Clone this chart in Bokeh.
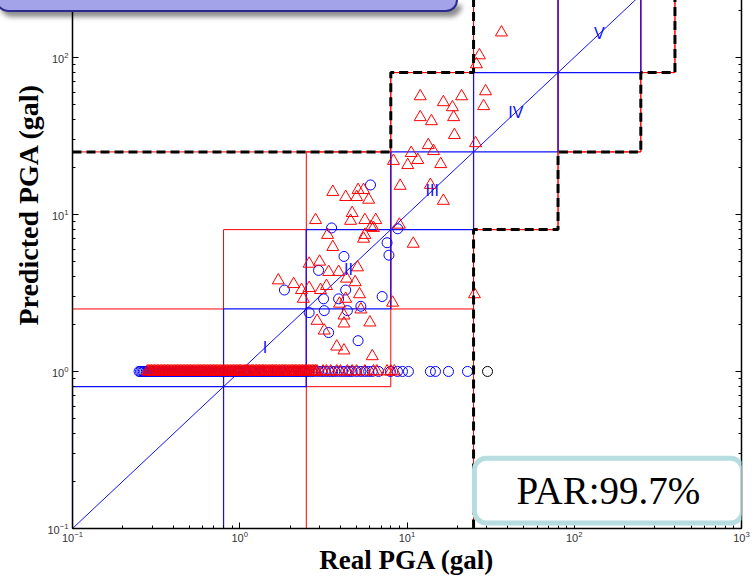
import math
from bokeh.plotting import figure
from bokeh.layouts import column
from bokeh.models import (LogAxis, FixedTicker, Label, BoxAnnotation,
                          CustomJSTickFormatter, Range1d, Title, Div)
from bokeh.core.properties import value
from bokeh.embed import file_html
from bokeh.resources import INLINE

# ---------------- data ----------------
# intensity class boundaries (gal)
class_lo = [0.1, 0.8, 2.5, 8, 25, 80]
class_hi = [0.8, 2.5, 8, 25, 80, 250]
class_names = ["I", "II", "III", "IV", "V"]

# +-1 class tolerance rectangles (red)
tol_left = [0.1, 0.8, 2.5, 8, 25, 80, 250]
tol_right = [0.8, 2.5, 8, 25, 80, 250, 400]
tol_bottom = [0.1, 0.1, 0.8, 2.5, 8, 25, 80]
tol_top = [2.5, 8, 25, 80, 250, 400, 1000]

# acceptable-region boundary (black dashed)
upper_x = [0.1, 8, 8, 25, 25]
upper_y = [25, 25, 80, 80, 1000]
lower_x = [25, 25, 80, 80, 250, 250, 400, 400]
lower_y = [0.1, 8, 8, 25, 25, 80, 80, 1000]

# red triangles: scattered points
tri_x = [36.7, 27.1, 26.0, 12.0, 16.5, 21.2, 29.5, 18.7, 28.7, 12.0, 14.0, 19.0,
         19.2, 13.4, 14.4, 25.7, 10.6, 11.6, 8.3, 10.1, 15.9, 9.1, 13.8, 16.5,
         6.5, 9.0, 10.9, 5.5, 5.9, 5.6, 6.1, 5.6, 3.6, 4.3, 5.1, 5.0, 4.7, 4.6,
         2.84, 6.3, 5.5, 3.35, 3.6, 2.6, 3.0, 3.4, 3.9, 5.06, 4.35, 4.9, 1.7,
         2.1, 2.6, 2.34, 2.4, 3.3, 3.04, 5.2, 4.3, 3.95, 8.2, 5.3, 4.2, 4.2, 2.9,
         6.0, 3.2, 3.8, 4.2, 6.2, 25.3]
tri_y = [144, 103, 90.3, 56.5, 51.8, 56.5, 60.8, 48.1, 48.9, 41.6, 39.2, 41.6,
         32.0, 27.6, 25.3, 28.4, 24.6, 22.2, 21.9, 20.6, 20.9, 15.2, 15.4, 12.2,
         9.2, 8.6, 6.5, 14.3, 12.4, 9.2, 8.3, 7.4, 13.9, 12.9, 14.3, 12.9, 10.2, 9.1,
         9.2, 8.2, 7.0, 7.4, 6.2, 4.85, 5.0, 4.3, 4.3, 4.6, 3.9, 3.7, 3.8,
         3.6, 3.4, 3.3, 2.9, 3.5, 3.3, 3.1, 2.9, 2.7, 2.74, 2.48, 2.27, 2.02, 2.1,
         2.05, 1.82, 1.44, 1.36, 1.25, 3.1]
# red triangles predicted at the 1 gal floor
tri_floor_x = [0.280, 0.286, 0.291, 0.297, 0.303, 0.309, 0.315, 0.322, 0.328,
               0.335, 0.341, 0.348, 0.355, 0.362, 0.369, 0.377, 0.384, 0.392,
               0.400, 0.408, 0.416, 0.424, 0.433, 0.441, 0.450, 0.459, 0.468,
               0.478, 0.487, 0.497, 0.507, 0.517, 0.527, 0.538, 0.549, 0.560,
               0.571, 0.582, 0.594, 0.606, 0.618, 0.630, 0.643, 0.656, 0.669,
               0.682, 0.696, 0.710, 0.724, 0.738, 0.753, 0.768, 0.784, 0.799,
               0.815, 0.832, 0.848, 0.865, 0.883, 0.900, 0.918, 0.937, 0.955,
               0.975, 0.994, 1.01, 1.03, 1.06, 1.08, 1.10, 1.12, 1.14, 1.17,
               1.19, 1.21, 1.24, 1.26, 1.29, 1.31, 1.34, 1.37, 1.39, 1.42, 1.45,
               1.48, 1.51, 1.54, 1.57, 1.60, 1.63, 1.66, 1.70, 1.73, 1.77, 1.80,
               1.84, 1.87, 1.91, 1.95, 1.99, 2.03, 2.07, 2.11, 2.15, 2.19, 2.24,
               2.28, 2.33, 2.37, 2.42, 2.47, 2.52, 2.57, 2.62, 2.67, 2.73, 2.78,
               2.84, 2.90, 3.15, 3.3, 3.5, 3.8, 4.0, 4.4, 4.7, 5.0, 5.6, 6.3,
               6.6, 7.6, 8.0, 8.4]
tri_floor_y = [1.0] * len(tri_floor_x)

# blue circles: scattered points
cir_x = [6.05, 3.54, 8.8, 7.6, 7.8, 4.2, 2.96, 1.85, 4.3, 3.17, 3.9, 7.1, 5.3,
         2.6, 3.2, 4.4, 3.4, 5.1]
cir_y = [15.4, 8.2, 8.1, 6.6, 5.5, 5.4, 4.4, 3.3, 3.3, 2.9, 2.9, 3.0, 2.6,
         2.37, 2.44, 2.44, 1.77, 1.57]
# blue circles predicted at the 1 gal floor
cir_floor_x = [0.250, 0.255, 0.260, 0.265, 0.270, 0.276, 0.281, 0.287, 0.293,
               0.299, 0.305, 0.311, 0.317, 0.324, 0.330, 0.337, 0.344, 0.351,
               0.358, 0.365, 0.373, 0.380, 0.388, 0.396, 0.404, 0.412, 0.421,
               0.429, 0.438, 0.447, 0.456, 0.466, 0.475, 0.485, 0.495, 0.505,
               0.516, 0.526, 0.537, 0.548, 0.560, 0.571, 0.583, 0.595, 0.607,
               0.620, 0.633, 0.646, 0.659, 0.673, 0.687, 0.701, 0.716, 0.731,
               0.746, 0.762, 0.778, 0.794, 0.811, 0.828, 0.846, 0.864, 0.882,
               0.900, 0.920, 0.940, 0.960, 0.980, 1.00, 1.02, 1.05, 1.07, 1.10,
               1.12, 1.15, 1.18, 1.21, 1.24, 1.27, 1.30, 1.33, 1.36, 1.40, 1.43,
               1.47, 1.50, 1.54, 1.58, 1.62, 1.66, 1.70, 1.74, 1.78, 1.83, 1.87,
               1.92, 1.97, 2.02, 2.07, 2.12, 2.17, 2.23, 2.28, 2.34, 2.40, 2.46,
               2.52, 2.6, 2.7, 2.8, 2.95, 3.1, 3.25, 3.4, 3.55, 3.7, 3.9, 4.1,
               4.3, 4.5, 4.7, 5.0, 5.3, 5.6, 5.9, 6.2, 6.76, 7.96, 8.77, 9.4,
               10.2, 13.8, 14.8, 17.7, 23.0]
cir_floor_y = [1.0] * len(cir_floor_x)
# single black circle
blk_x = [30.3]
blk_y = [1.0]

par_text = "PAR:99.7%"
x_title = "Real PGA (gal)"
y_title = "Predicted PGA (gal)"
decades = [0.1, 1, 10, 100, 1000]
decade_labels = {"0.1": "10\u207b\u00b9", "1": "10\u2070", "10": "10\u00b9",
                 "100": "10\u00b2", "1000": "10\u00b3"}

# ---------------- figure ----------------
Y_TOP = 237.0
p = figure(width=755, height=579, x_axis_type="log", y_axis_type="log",
           x_range=Range1d(0.1, 1000), y_range=Range1d(0.1, Y_TOP),
           output_backend="svg", toolbar_location=None,
           min_border_left=72, min_border_right=14, min_border_top=0,
           min_border_bottom=48)
p.outline_line_color = None
p.grid.visible = False
p.background_fill_color = "white"
p.border_fill_color = "white"

minor = [m * d for d in [0.1, 1, 10, 100] for m in range(2, 10)]
ticker = FixedTicker(ticks=decades, minor_ticks=minor)


def style_axis(ax):
    ax.ticker = ticker
    ax.axis_line_width = 1.5
    ax.axis_line_color = "black"
    ax.major_tick_in = 6
    ax.major_tick_out = 0
    ax.minor_tick_in = 3
    ax.minor_tick_out = 0
    ax.major_tick_line_color = "black"
    ax.minor_tick_line_color = "black"
    ax.major_label_text_font = "Liberation Sans"
    ax.major_label_text_font_size = "11px"
    ax.major_label_text_color = "#333333"


for ax in (p.xaxis[0], p.yaxis[0]):
    style_axis(ax)
    ax.major_label_overrides = decade_labels
p.xaxis.major_label_standoff = 2
p.yaxis.major_label_standoff = 4

# x title as axis label (centred on the frame)
p.xaxis.axis_label = x_title
p.xaxis.axis_label_standoff = 0
p.xaxis.axis_label_text_font = "Liberation Serif"
p.xaxis.axis_label_text_font_style = "bold"
p.xaxis.axis_label_text_font_size = "27px"
p.xaxis.axis_label_text_color = "black"

# y title as a left-side title, shifted upward like the reference
p.add_layout(Title(text=y_title, align="right", offset=85,
                   text_font="Liberation Serif", text_font_style="bold",
                   text_font_size="28px", text_color="black", standoff=2),
             "left")

right_ax = LogAxis()
style_axis(right_ax)
right_ax.formatter = CustomJSTickFormatter(code="return ''")
p.add_layout(right_ax, "right")

# red tolerance rectangles
p.quad(left=tol_left, right=tol_right, bottom=tol_bottom, top=tol_top,
       fill_color=None, line_color="#ff0000", line_width=1)
# blue same-class squares
p.quad(left=class_lo, right=class_hi, bottom=class_lo, top=class_hi,
       fill_color=None, line_color="#1010ff", line_width=1.2)
# 1:1 line
p.line([0.1, 1000], [0.1, 1000], line_color="#1010ff", line_width=1)

# markers
p.scatter(cir_floor_x, cir_floor_y, marker="circle", size=10,
          fill_color=None, line_color="#0000ff", line_width=1)
p.scatter(cir_x, cir_y, marker="circle", size=10,
          fill_color=None, line_color="#0000ff", line_width=1)
p.scatter(blk_x, blk_y, marker="circle", size=10,
          fill_color=None, line_color="black", line_width=1)
p.scatter(tri_floor_x, tri_floor_y, marker="triangle", size=12,
          fill_color=None, line_color="#ff0000", line_width=1)
p.scatter(tri_x, tri_y, marker="triangle", size=12,
          fill_color=None, line_color="#ff0000", line_width=1)

# acceptable region boundary
for xs, ys in ((upper_x, upper_y), (lower_x, lower_y)):
    p.line(xs, ys, line_color="#ff0000", line_width=1)
    p.line(xs, ys, line_color="black", line_width=3, line_dash="9 5")

# class labels on the diagonal
lab_x = [math.sqrt(a * b) for a, b in zip(class_lo[1:], class_hi[1:])]
p.text(lab_x, lab_x, text=class_names, text_color="#1010ff",
       text_font=value("Liberation Sans"), text_font_size="16px",
       text_align="center", text_baseline="middle")

# PAR box
p.add_layout(BoxAnnotation(left=25.3, right=1014, bottom=0.1084, top=0.280,
                           fill_color="white", fill_alpha=1.0,
                           line_color="#b7dde0", line_alpha=1.0, line_width=5,
                           border_radius=12, level="overlay"))
p.add_layout(Label(x=160, y=0.1755, text=par_text, text_align="center",
                   text_baseline="middle", text_font="Liberation Serif",
                   text_font_size="39px", text_color="black", level="overlay"))

# top legend strip (cut off in the reference): an HTML box laid over the plot
strip = Div(text="", width=462, height=12, margin=(0, 0, -14, -4),
            styles={"position": "relative", "z-index": "10",
                    "background-color": "#a3a3ea",
                    "border": "2px solid #2b2b8c", "border-top": "none",
                    "border-radius": "0 0 14px 14px",
                    "box-shadow": "4px 5px 5px rgba(0,0,0,0.45)"})

layout = column(strip, p, spacing=0)
open("out.html", "w").write(file_html(layout, INLINE))
